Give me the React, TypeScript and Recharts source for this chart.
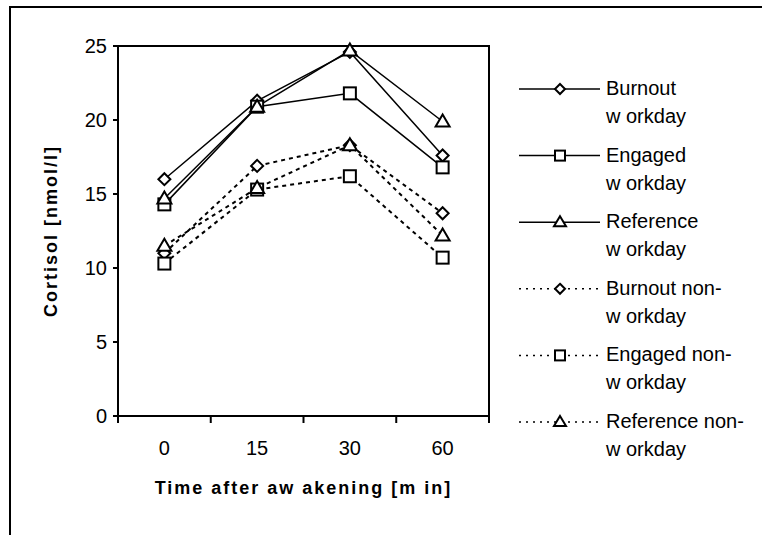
import {
  LineChart,
  Line,
  XAxis,
  YAxis,
  Legend,
  Label,
  ReferenceArea,
} from 'recharts';

const categories = ['0', '15', '30', '60'];
const yTicks = [0, 5, 10, 15, 20, 25];

const burnoutWorkday = [16.0, 21.3, 24.6, 17.6];
const engagedWorkday = [14.3, 20.9, 21.8, 16.8];
const referenceWorkday = [14.7, 20.9, 24.7, 19.9];
const burnoutNonWorkday = [11.0, 16.9, 18.3, 13.7];
const engagedNonWorkday = [10.3, 15.3, 16.2, 10.7];
const referenceNonWorkday = [11.5, 15.4, 18.3, 12.2];

type Shape = 'diamond' | 'square' | 'triangle';

const SERIES: { key: string; label: [string, string]; values: number[]; shape: Shape; dashed: boolean }[] = [
  { key: 'bw', label: ['Burnout', 'w orkday'], values: burnoutWorkday, shape: 'diamond', dashed: false },
  { key: 'ew', label: ['Engaged', 'w orkday'], values: engagedWorkday, shape: 'square', dashed: false },
  { key: 'rw', label: ['Reference', 'w orkday'], values: referenceWorkday, shape: 'triangle', dashed: false },
  { key: 'bn', label: ['Burnout non-', 'w orkday'], values: burnoutNonWorkday, shape: 'diamond', dashed: true },
  { key: 'en', label: ['Engaged non-', 'w orkday'], values: engagedNonWorkday, shape: 'square', dashed: true },
  { key: 'rn', label: ['Reference non-', 'w orkday'], values: referenceNonWorkday, shape: 'triangle', dashed: true },
];

// x is the category index, so band edges can carry the tick marks
const data = categories.map((cat, i) => {
  const row: Record<string, number | string> = { idx: i, cat };
  SERIES.forEach((s) => {
    row[s.key] = s.values[i];
  });
  return row;
});

const xTicks = [-0.5, 0, 0.5, 1, 1.5, 2, 2.5, 3, 3.5];

const Marker = ({ cx, cy, shape, r = 6 }: { cx: number; cy: number; shape: Shape; r?: number }) => {
  const common = { fill: '#fff', stroke: '#000', strokeWidth: 2 };
  if (shape === 'diamond') {
    return <polygon points={`${cx},${cy - r} ${cx + r},${cy} ${cx},${cy + r} ${cx - r},${cy}`} {...common} />;
  }
  if (shape === 'square') {
    return <rect x={cx - r} y={cy - r} width={r * 2} height={r * 2} {...common} />;
  }
  return <polygon points={`${cx},${cy - r - 1} ${cx + r + 1},${cy + r - 1} ${cx - r - 1},${cy + r - 1}`} {...common} />;
};

const XTick = (props: any) => {
  const { x, y, payload } = props;
  const v = payload.value as number;
  if (!Number.isInteger(v)) {
    return <line x1={x} y1={y} x2={x} y2={y + 7} stroke="#000" strokeWidth={2} />;
  }
  return (
    <text x={x} y={y + 39} textAnchor="middle" fontSize={20} fill="#000">
      {categories[v]}
    </text>
  );
};

const renderLegend = () => (
  <svg width={240} height={420}>
    {SERIES.map((s, i) => {
      const base = 17 + i * 66.6;
      const ly = base - 6;
      return (
        <g key={s.key}>
          <line
            x1={0}
            y1={ly}
            x2={81}
            y2={ly}
            stroke="#000"
            strokeWidth={s.dashed ? 1.5 : 1.5}
            strokeDasharray={s.dashed ? '2 5' : undefined}
          />
          <Marker cx={41} cy={ly} shape={s.shape} r={5} />
          <text x={87} y={base} fontSize={20} fill="#000">
            {s.label[0]}
          </text>
          <text x={87} y={base + 28} fontSize={20} fill="#000">
            {s.label[1]}
          </text>
        </g>
      );
    })}
  </svg>
);

const App = () => {
  return (
    <div
      style={{
        position: 'absolute',
        left: 9,
        top: 6,
        width: 751,
        height: 527,
        borderTop: '2px solid #000',
        borderLeft: '2px solid #000',
        background: '#fff',
        fontFamily: '"Liberation Sans", Arial, sans-serif',
      }}
    >
      <LineChart width={751} height={527} data={data} margin={{ top: 38, right: 273, left: 0, bottom: 39 }}>
        <XAxis
          dataKey="idx"
          type="number"
          domain={[-0.5, 3.5]}
          ticks={xTicks}
          interval={0}
          height={80}
          tick={<XTick />}
          tickLine={false}
          tickSize={0}
          tickMargin={0}
          axisLine={{ stroke: '#000', strokeWidth: 2 }}
        >
          <Label
            value="Time after aw akening [m in]"
            position="insideBottom"
            offset={2}
            style={{ fontSize: 18, fontWeight: 'bold', fill: '#000', letterSpacing: 2 }}
          />
        </XAxis>
        <YAxis
          type="number"
          domain={[0, 25]}
          ticks={yTicks}
          width={107}
          tickSize={5}
          tickMargin={6}
          tick={{ fontSize: 20, fill: '#000' }}
          tickLine={{ stroke: '#000', strokeWidth: 2 }}
          axisLine={{ stroke: '#000', strokeWidth: 2 }}
        >
          <Label
            content={({ viewBox }: any) => {
              const cx = viewBox.x + 46;
              const cy = viewBox.y + viewBox.height / 2;
              return (
                <text
                  x={cx}
                  y={cy}
                  transform={`rotate(-90 ${cx} ${cy})`}
                  textAnchor="middle"
                  fontSize={18}
                  fontWeight="bold"
                  letterSpacing={2}
                  fill="#000"
                >
                  Cortisol [nmol/l]
                </text>
              );
            }}
          />
        </YAxis>
        <ReferenceArea x1={-0.5} x2={3.5} y1={0} y2={25} fill="none" stroke="#000" strokeWidth={2} />
        {SERIES.map((s) => (
          <Line
            key={s.key}
            dataKey={s.key}
            type="linear"
            stroke="#000"
            strokeWidth={s.dashed ? 2 : 1.5}
            strokeDasharray={s.dashed ? '4 4' : undefined}
            isAnimationActive={false}
            dot={(p: any) => <Marker key={`${s.key}-${p.index}`} cx={p.cx} cy={p.cy} shape={s.shape} />}
            activeDot={false}
          />
        ))}
        <Legend
          layout="horizontal"
          verticalAlign="middle"
          align="center"
          content={renderLegend}
          wrapperStyle={{ left: 508, top: 70, width: 240, height: 420 }}
        />
      </LineChart>
    </div>
  );
};

export default App;
